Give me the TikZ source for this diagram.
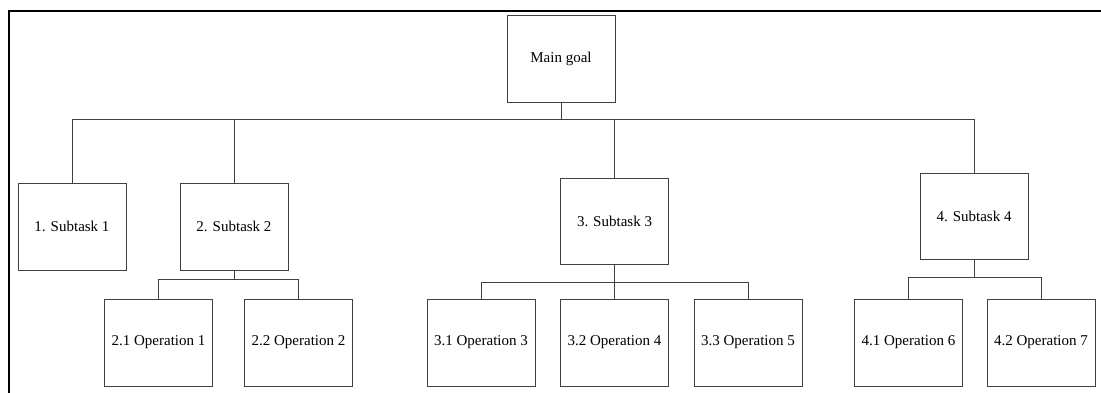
\documentclass[tikz,border=0pt]{standalone}
\usepackage{fontspec}
\setmainfont{Liberation Serif}
\begin{document}
\begin{tikzpicture}[x=1pt,y=-1pt,
  box/.style={draw=black!75,line width=1pt,rectangle,minimum width=108pt,minimum height=87pt,inner sep=0pt,font=\fontsize{15}{18}\selectfont},
  conn/.style={draw=black!75,line width=1pt}]
\useasboundingbox (0,0) rectangle (1101,392);
\draw[line width=2pt] (9,393) -- (9,11) -- (1102,11);
\node[box] (main) at (561,58.5) {Main goal};
\node[box] (s1) at (72,226.5) {1. Subtask 1};
\node[box] (s2) at (234,226.5) {2. Subtask 2};
\node[box,minimum height=86pt] (s3) at (614.5,221) {3. Subtask 3};
\node[box,minimum height=86pt] (s4) at (974,216) {4. Subtask 4};
\node[box] (o1) at (158.5,342.5) {2.1 Operation 1};
\node[box] (o2) at (298.5,342.5) {2.2 Operation 2};
\node[box] (o3) at (481,342.5) {3.1 Operation 3};
\node[box] (o4) at (614.5,342.5) {3.2 Operation 4};
\node[box] (o5) at (748,342.5) {3.3 Operation 5};
\node[box] (o6) at (908.5,342.5) {4.1 Operation 6};
\node[box] (o7) at (1041,342.5) {4.2 Operation 7};
\coordinate (bus) at (0,119);
\coordinate (b2) at (0,279);
\coordinate (b3) at (0,282);
\coordinate (b4) at (0,277);
\draw[conn] (main.south) -- (main.south |- bus);
\draw[conn] (s1.north) -- (s1.north |- bus) -- (s4.north |- bus) -- (s4.north);
\draw[conn] (s2.north) -- (s2.north |- bus);
\draw[conn] (s3.north) -- (s3.north |- bus);
\draw[conn] (s2.south) -- (s2.south |- b2);
\draw[conn] (o1.north) -- (o1.north |- b2) -- (o2.north |- b2) -- (o2.north);
\draw[conn] (s3.south) -- (o4.north);
\draw[conn] (o3.north) -- (o3.north |- b3) -- (o5.north |- b3) -- (o5.north);
\draw[conn] (s4.south) -- (s4.south |- b4);
\draw[conn] (o6.north) -- (o6.north |- b4) -- (o7.north |- b4) -- (o7.north);
\end{tikzpicture}
\end{document}
